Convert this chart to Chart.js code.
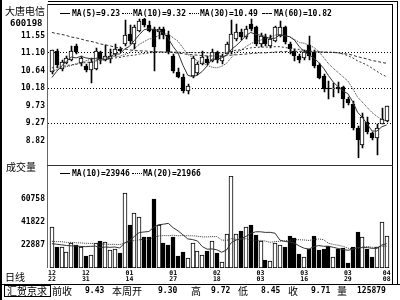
<!DOCTYPE html>
<html><head><meta charset="utf-8">
<script src="https://cdn.jsdelivr.net/npm/chart.js@4.4.1/dist/chart.umd.min.js"></script>
<style>
html,body{margin:0;padding:0;background:#fff;}
#w{position:relative;width:400px;height:300px;overflow:hidden;background:#fff;}
canvas{position:absolute;left:0;}
.t{position:absolute;white-space:pre;line-height:1;color:#000;}
.n{font:bold 8px "DejaVu Sans Mono",monospace;}
.c{font:10px "Noto Sans CJK SC",sans-serif;}
.l{position:absolute;background:#000;}
.s{position:absolute;width:10px;height:0;border-top:1px solid #000;}
</style></head><body><div id="w">
<canvas id="pc" width="400" height="166" style="top:0"></canvas>
<canvas id="vc" width="400" height="120" style="top:165px"></canvas>

<div class="l" style="left:0;top:0;width:2px;height:300px"></div>
<div class="l" style="left:48px;top:1px;width:350px;height:1px"></div>
<div class="l" style="left:47px;top:4px;width:346px;height:1px"></div>
<div class="l" style="left:47px;top:4px;width:1px;height:264px;background:#666"></div>
<div class="l" style="left:392px;top:4px;width:1px;height:280px"></div>
<div class="l" style="left:397px;top:1px;width:1px;height:283px"></div>
<div class="l" style="left:47px;top:165px;width:346px;height:1px;background:#333"></div>
<div class="l" style="left:0;top:284px;width:400px;height:1px"></div>

<div class="t c" style="left:5px;top:3px">大唐电信</div>
<div class="t" style="left:10px;top:18px;font:bold 9px 'DejaVu Sans Mono',monospace">600198</div>

<div class="s" style="left:60px;top:13px"></div>
<div class="t n" style="left:72px;top:9px">MA(5)=9.23</div>
<div class="s" style="left:122px;top:13px;border-top-style:dotted"></div>
<div class="t n" style="left:133px;top:9px">MA(10)=9.32</div>
<div class="s" style="left:189px;top:13px;border-top-style:dotted"></div>
<div class="t n" style="left:200px;top:9px">MA(30)=10.49</div>
<div class="s" style="left:262px;top:13px;border-top-style:dashed"></div>
<div class="t n" style="left:274px;top:9px">MA(60)=10.82</div>

<div class="t c" style="left:6px;top:159px">成交量</div>
<div class="s" style="left:60px;top:173px"></div>
<div class="t n" style="left:72px;top:169px">MA(10)=23946</div>
<div class="s" style="left:132px;top:173px;border-top-style:dotted"></div>
<div class="t n" style="left:143px;top:169px">MA(20)=21966</div>

<div class="t c" style="left:5px;top:269px">日线</div>

<div style="position:absolute;left:4px;top:285px;width:45px;height:10px;border:1px solid #000"></div>
<div class="t c" style="left:7px;top:283px">汇贺京求</div>
<div class="t c" style="left:52px;top:283px">前收</div>
<div class="t n" style="left:85px;top:286px">9.43</div>
<div class="t c" style="left:112px;top:283px">本周开</div>
<div class="t n" style="left:158px;top:286px">9.30</div>
<div class="t c" style="left:191px;top:283px">高</div>
<div class="t n" style="left:211px;top:286px">9.72</div>
<div class="t c" style="left:238px;top:283px">低</div>
<div class="t n" style="left:261px;top:286px">8.45</div>
<div class="t c" style="left:288px;top:283px">收</div>
<div class="t n" style="left:311px;top:286px">9.71</div>
<div class="t c" style="left:337px;top:283px">量</div>
<div class="t n" style="left:357px;top:286px">125879</div>
</div>
<script>
// ---------- data ----------
const open = [10.61,11.16,10.68,10.83,10.91,11.28,10.83,10.76,10.66,10.68,
 11.13,10.91,10.93,11.08,11.20,11.33,11.58,11.33,11.68,11.98,
 11.83,11.71,11.63,11.73,11.56,11.03,10.61,10.48,10.11,10.51,
 10.58,10.81,10.93,10.88,11.11,10.88,11.08,11.13,11.46,11.63,
 11.51,11.86,11.76,11.33,11.51,11.28,11.41,11.53,11.76,11.33,
 11.16,11.03,10.96,11.31,11.13,10.78,10.51,10.19,10.17,10.21,
 10.21,9.91,9.76,9.16,8.71,9.30,9.01,8.89,9.26,9.34];
const high = [11.18,11.21,10.91,11.03,11.28,11.33,11.03,10.81,10.96,11.23,
 11.16,11.31,11.21,11.33,11.26,11.96,11.83,11.83,11.98,12.00,
 11.93,11.76,11.78,11.78,11.66,11.08,10.71,10.56,10.29,11.01,
 10.86,11.16,11.01,11.21,11.16,11.06,11.38,11.96,11.86,11.71,
 11.81,11.98,11.81,11.61,11.58,11.56,11.81,11.93,11.81,11.38,
 11.21,11.08,11.18,11.53,11.18,10.83,10.56,10.36,10.31,10.34,
 10.24,9.96,9.84,9.19,9.54,9.44,9.04,9.26,9.66,9.72];
const low = [10.56,10.71,10.63,10.81,10.88,11.06,10.76,10.61,10.31,10.66,
 10.81,10.88,10.83,11.03,11.11,11.28,11.33,11.21,11.63,11.78,
 11.63,10.63,11.46,11.46,11.08,10.58,10.46,10.06,10.04,10.46,
 10.53,10.78,10.78,10.86,10.83,10.81,11.06,11.08,11.41,11.43,
 11.46,11.66,11.28,11.26,11.28,11.23,11.38,11.51,11.33,11.08,
 10.88,10.83,10.91,10.91,10.71,10.41,10.09,9.89,9.96,10.06,
 9.66,9.74,9.11,8.37,8.64,8.99,8.84,8.45,9.24,9.31];
const close = [11.17,10.78,10.86,10.96,11.16,11.11,10.96,10.66,10.86,11.16,
 10.93,11.03,11.03,11.21,11.15,11.56,11.41,11.78,11.93,11.83,
 11.68,11.26,11.71,11.56,11.13,10.63,10.48,10.11,10.24,10.96,
 10.81,10.98,10.83,11.13,10.91,11.01,11.33,11.58,11.63,11.51,
 11.71,11.71,11.33,11.53,11.33,11.46,11.76,11.78,11.38,11.21,
 11.01,10.91,11.13,11.01,10.76,10.46,10.16,10.16,10.18,10.16,
 9.89,9.79,9.14,8.84,9.43,9.04,8.89,9.14,9.39,9.71];
const volume = [37950,21000,21000,17500,24500,22500,21500,14000,15000,24500,
 26000,25500,19000,20000,16000,65450,39000,49500,46000,29700,
 29700,61000,39500,24250,22900,29500,13500,17000,12000,24250,
 18200,15000,18000,26000,16000,9000,32000,79693,32000,34400,
 38000,39400,31100,26200,10800,9500,24800,22800,21000,30300,
 28400,15200,13260,19350,30300,18750,19200,22000,13400,20000,
 20700,8300,21500,33850,29231,19379,13000,21500,41500,30500];
const ma5 = [10.46,10.62,10.76,10.88,10.99,10.97,11.01,10.97,10.95,10.95,
 10.91,10.93,11.00,11.07,11.07,11.20,11.27,11.42,11.57,11.70,
 11.73,11.70,11.68,11.61,11.47,11.26,11.10,10.78,10.52,10.48,
 10.52,10.62,10.76,10.94,10.93,10.97,11.04,11.19,11.29,11.41,
 11.55,11.63,11.58,11.56,11.52,11.47,11.48,11.57,11.54,11.52,
 11.43,11.26,11.13,11.05,10.96,10.85,10.70,10.51,10.34,10.22,
 10.11,10.04,9.83,9.56,9.42,9.25,9.07,9.07,9.18,9.23];
const ma10 = [10.63,10.66,10.71,10.74,10.77,10.82,10.85,10.89,10.94,10.97,
 10.94,10.97,10.99,11.01,11.01,11.06,11.10,11.21,11.32,11.39,
 11.46,11.48,11.55,11.59,11.59,11.49,11.40,11.23,11.06,10.98,
 10.89,10.86,10.77,10.73,10.71,10.75,10.83,10.98,11.12,11.17,
 11.26,11.34,11.39,11.43,11.47,11.51,11.56,11.58,11.55,11.52,
 11.45,11.37,11.35,11.30,11.24,11.14,10.98,10.82,10.70,10.59,
 10.48,10.37,10.17,9.95,9.82,9.68,9.55,9.45,9.37,9.33];
const ma30 = [10.71,10.73,10.74,10.77,10.79,10.80,10.83,10.85,10.86,10.89,
 10.91,10.92,10.95,10.97,10.98,11.01,11.03,11.04,11.07,11.08,
 11.10,11.11,11.12,11.12,11.13,11.12,11.12,11.11,11.11,11.11,
 11.10,11.11,11.10,11.11,11.10,11.10,11.11,11.14,11.17,11.18,
 11.20,11.23,11.24,11.25,11.25,11.25,11.26,11.26,11.24,11.22,
 11.20,11.19,11.17,11.15,11.14,11.13,11.12,11.12,11.12,11.10,
 11.07,11.03,10.97,10.89,10.84,10.78,10.70,10.62,10.54,10.48];
const ma60 = [11.63,11.60,11.58,11.55,11.51,11.49,11.46,11.42,11.40,11.37,
 11.33,11.31,11.28,11.25,11.22,11.20,11.18,11.16,11.15,11.15,
 11.14,11.13,11.13,11.12,11.12,11.11,11.09,11.08,11.06,11.05,
 11.04,11.03,11.02,11.02,11.02,11.02,11.03,11.04,11.05,11.06,
 11.07,11.08,11.09,11.10,11.10,11.11,11.12,11.13,11.13,11.14,
 11.14,11.14,11.14,11.13,11.13,11.12,11.12,11.11,11.11,11.10,
 11.08,11.07,11.04,11.00,10.97,10.94,10.90,10.88,10.85,10.83];
const volMa10 = [24000,23500,23000,22500,22200,22000,21700,21500,21800,21945,
 20750,21200,21000,21250,20400,24695,26445,29995,33095,33615,
 33985,37535,39585,40010,40700,37105,34555,31305,27905,27360,
 26210,21610,19460,19635,18945,16895,18745,25014,27014,28029,
 30009,32449,33759,33779,33259,33309,32589,26900,25800,25390,
 24430,22010,20226,19541,21491,22416,21856,21776,21016,19986,
 19216,18526,19350,20800,20693,20756,20136,20086,22896,23946];
const volMa20 = [25900,25700,25600,25100,25000,24700,24600,24300,24200,24100,
 23700,23600,23400,23400,23200,24600,25400,26600,27100,27780,
 27368,29368,30293,30630,30550,30900,30500,30650,30500,30488,
 30098,29573,29523,29823,29823,27000,26650,28160,27460,27695,
 28110,27030,26610,26707,26102,25102,25667,25957,26407,26710,
 27220,27230,26993,26660,27375,27863,27223,24338,23408,22688,
 21823,20268,19788,20171,21092,21586,20996,20931,21956,21966];
const priceTicks = [8.82, 9.27, 9.73, 10.18, 10.64, 11.10, 11.55];
const priceGridTicks = [9.27, 10.18, 11.10];
const volTicks = [22887, 41822, 60758];
const dateTickIdx = [0, 7, 16, 25, 34, 43, 52, 61, 69];
const dateTickLabels = [['12','22'],['12','31'],['01','14'],['01','27'],['02','18'],['03','03'],['03','16'],['03','29'],['04','08']];
const priceMin = 8.365, priceMax = 12.005, volMin = 3951, volMax = 79693;

// ---------- drawing ----------
const idx = close.map((_, i) => i);
const up = close.map((c, i) => c >= open[i]);
const xMin = -0.8, xMax = 70.1;
const mono = 'DejaVu Sans Mono';

const snap = {
  id: 'snap',
  afterDatasetsUpdate(chart) {
    chart.data.datasets.forEach((ds, di) => {
      const meta = chart.getDatasetMeta(di);
      if (meta.type !== 'bar') return;
      const off = ds.snapOffset || 0;
      meta.data.forEach(el => {
        el.x = Math.round(el.x) + off;
        let y = Math.round(el.y), b = Math.round(el.base);
        if (y === b) b = y + 1;
        el.y = y; el.base = b; el.height = b - y;
      });
    });
  }
};

const common = {
  responsive: false, animation: false, devicePixelRatio: 1, events: [],
  plugins: { legend: { display: false }, tooltip: { enabled: false } }
};
const line = (arr, dash, yID) => ({
  type: 'line', data: idx.map(i => ({ x: i, y: arr[i] })), borderColor: '#333',
  borderWidth: 1, borderDash: dash, pointRadius: 0, tension: 0, order: 0, yAxisID: yID
});

new Chart(document.getElementById('pc'), {
  type: 'bar',
  data: { datasets: [
    { label: 'wick', data: idx.map(i => ({ x: i, y: [low[i], high[i]] })), backgroundColor: '#000',
      borderWidth: 0, barThickness: 1, grouped: false, order: 3, snapOffset: 0.5 },
    { label: 'body', data: idx.map(i => ({ x: i, y: [open[i], close[i]] })),
      backgroundColor: up.map(u => u ? '#fff' : '#000'), borderColor: '#000', borderWidth: 1,
      borderSkipped: false, barThickness: 4, grouped: false, order: 2, minBarLength: 1 },
    line(ma5, [], 'y'), line(ma10, [1, 1], 'y'), line(ma30, [2, 2], 'y'), line(ma60, [3, 2], 'y')
  ]},
  options: Object.assign({}, common, {
    layout: { padding: { left: 0, right: 8, top: 18, bottom: 2 } },
    scales: {
      x: { type: 'linear', min: xMin, max: xMax, offset: false, bounds: 'data', display: false },
      y: { type: 'linear', min: priceMin, max: priceMax, bounds: 'data', position: 'left',
        afterBuildTicks: s => { s.ticks = priceTicks.map(v => ({ value: v })); },
        afterFit: s => { s.width = 48; },
        ticks: { callback: v => Number(v).toFixed(2), color: '#000', padding: 3,
          font: { family: mono, weight: 'bold', size: 8 } },
        grid: { drawTicks: false, lineWidth: 1,
          color: c => (c.tick && priceGridTicks.includes(c.tick.value)) ? '#000' : 'rgba(0,0,0,0)' },
        border: { display: false, dash: [1, 2] } }
    }
  }),
  plugins: [snap]
});

new Chart(document.getElementById('vc'), {
  type: 'bar',
  data: { datasets: [
    { label: 'vol', data: idx.map(i => ({ x: i, y: volume[i] })), base: volMin,
      backgroundColor: up.map(u => u ? '#fff' : '#000'), borderColor: '#000', borderWidth: 1,
      borderSkipped: false, barThickness: 4, grouped: false, order: 2 },
    line(volMa10, [], 'y'), line(volMa20, [1, 1], 'y')
  ]},
  options: Object.assign({}, common, {
    layout: { padding: { left: 0, right: 8, top: 11, bottom: 1 } },
    scales: {
      x: { type: 'linear', min: xMin, max: xMax, offset: false, bounds: 'data',
        afterBuildTicks: s => { s.ticks = dateTickIdx.map(v => ({ value: v })); },
        afterFit: s => { s.height = 16; },
        ticks: { autoSkip: false, maxRotation: 0, minRotation: 0, padding: 2, color: '#000',
          callback: (v, i) => dateTickLabels[i],
          font: { family: mono, weight: 'bold', size: 6.5, lineHeight: 1 } },
        grid: { display: false, drawTicks: false }, border: { display: false } },
      y: { type: 'linear', min: volMin, max: volMax, bounds: 'data', position: 'left',
        afterBuildTicks: s => { s.ticks = volTicks.map(v => ({ value: v })); },
        afterFit: s => { s.width = 48; },
        ticks: { callback: v => String(v), color: '#000', padding: 3,
          font: { family: mono, weight: 'bold', size: 8 } },
        grid: { display: false, drawTicks: false }, border: { display: false } }
    }
  }),
  plugins: [snap]
});
</script>
</body></html>
